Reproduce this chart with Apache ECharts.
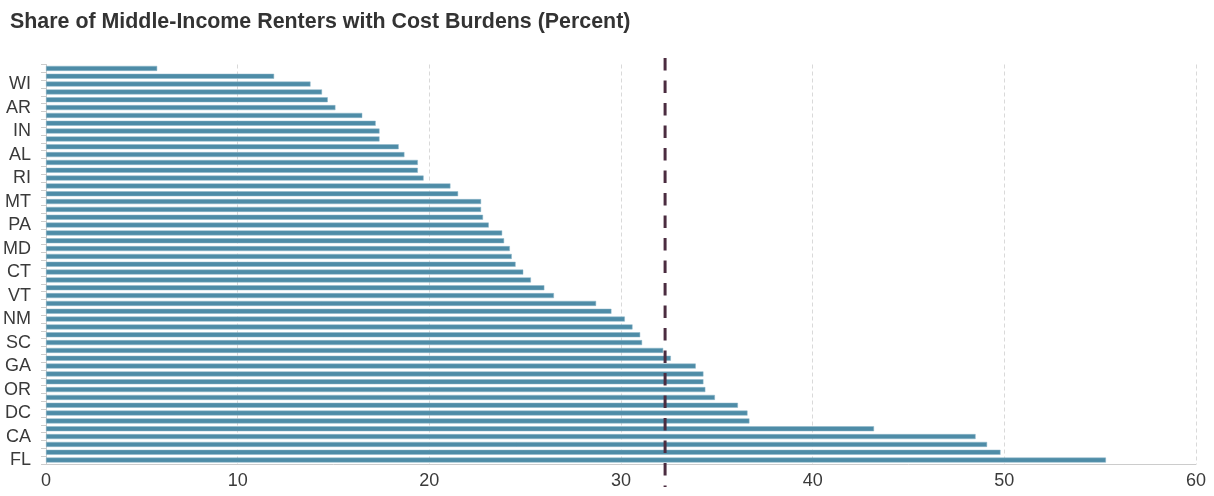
<!DOCTYPE html>
<html>
<head>
<meta charset="utf-8">
<script src="https://cdn.jsdelivr.net/npm/echarts@6/dist/echarts.min.js"></script>
<style>
  html, body { margin: 0; padding: 0; background: #ffffff; }
  #chart { width: 1214px; height: 496px; }
</style>
</head>
<body>
<div id="chart"></div>
<script>
// Categories from bottom (index 0) to top
const states = [
  'FL','HI','NV','CA','NY','NJ','DC','AZ','TX','OR',
  'LA','CO','GA','WA','MA','SC','UT','NC','NM','TN',
  'DE','VT','IL','MI','CT','VA','ME','MD','MS','ID',
  'PA','OK','NH','MT','MO','OH','RI','KY','MN','AL',
  'NE','KS','IN','IA','WY','AR','WV','AK','WI','SD','ND'
];
// Share of middle-income renters with cost burdens (percent)
const shares = [
  55.3, 49.8, 49.1, 48.5, 43.2, 36.7, 36.6, 36.1, 34.9, 34.4,
  34.3, 34.3, 33.9, 32.6, 32.2, 31.1, 31.0, 30.6, 30.2, 29.5,
  28.7, 26.5, 26.0, 25.3, 24.9, 24.5, 24.3, 24.2, 23.9, 23.8,
  23.1, 22.8, 22.7, 22.7, 21.5, 21.1, 19.7, 19.4, 19.4, 18.7,
  18.4, 17.4, 17.4, 17.2, 16.5, 15.1, 14.7, 14.4, 13.8, 11.9, 5.8
];
// National reference value (dashed line)
const nationalShare = 32.3;
const xTicks = [0, 10, 20, 30, 40, 50, 60];
const titleText = 'Share of Middle-Income Renters with Cost Burdens (Percent)';

const FONT = '"Liberation Sans", Arial, Helvetica, sans-serif';
const chart = echarts.init(document.getElementById('chart'), null, { renderer: 'canvas' });

chart.setOption({
  animation: false,
  backgroundColor: '#ffffff',
  title: {
    text: titleText,
    left: 5,
    top: 7,
    textStyle: { fontFamily: FONT, fontSize: 21.4, fontWeight: 'bold', color: '#333333' }
  },
  grid: [
    { left: 46, right: 18, top: 64.5, bottom: 32, containLabel: false },
    { left: 46, right: 18, top: 58, bottom: 9, containLabel: false }
  ],
  xAxis: [
    {
      gridIndex: 0,
      type: 'value',
      min: xTicks[0],
      max: xTicks[xTicks.length - 1],
      interval: 10,
      axisLine: { show: true, lineStyle: { color: '#cccccc', width: 1 } },
      axisTick: { show: false },
      axisLabel: { color: '#3a3a3a', fontSize: 18, fontFamily: FONT, margin: 8 },
      splitLine: { show: true, lineStyle: { color: '#d9d9d9', type: [4, 3], width: 1 } }
    },
    {
      gridIndex: 1,
      type: 'value',
      min: xTicks[0],
      max: xTicks[xTicks.length - 1],
      show: false
    }
  ],
  yAxis: [
    {
      gridIndex: 0,
      type: 'category',
      data: states,
      axisLine: { show: true, lineStyle: { color: '#cccccc', width: 1 } },
      axisTick: { show: true, interval: 0, length: 5, lineStyle: { color: '#cccccc' } },
      axisLabel: { interval: 2, color: '#3a3a3a', fontSize: 18, fontFamily: FONT, margin: 15 },
      splitLine: { show: false }
    },
    {
      gridIndex: 1,
      type: 'value',
      min: 0,
      max: 1,
      show: false
    }
  ],
  series: [
    {
      type: 'bar',
      xAxisIndex: 0,
      yAxisIndex: 0,
      data: shares,
      barWidth: 5,
      itemStyle: { color: '#4e8ca7', borderColor: '#8fb7c9', borderWidth: 0.5 }
    },
    {
      type: 'line',
      xAxisIndex: 1,
      yAxisIndex: 1,
      data: [[nationalShare, 1], [nationalShare, 0]],
      symbol: 'none',
      z: 5,
      lineStyle: { color: '#4b2c40', width: 3, type: [12.5, 10] }
    }
  ]
});
</script>
</body>
</html>
